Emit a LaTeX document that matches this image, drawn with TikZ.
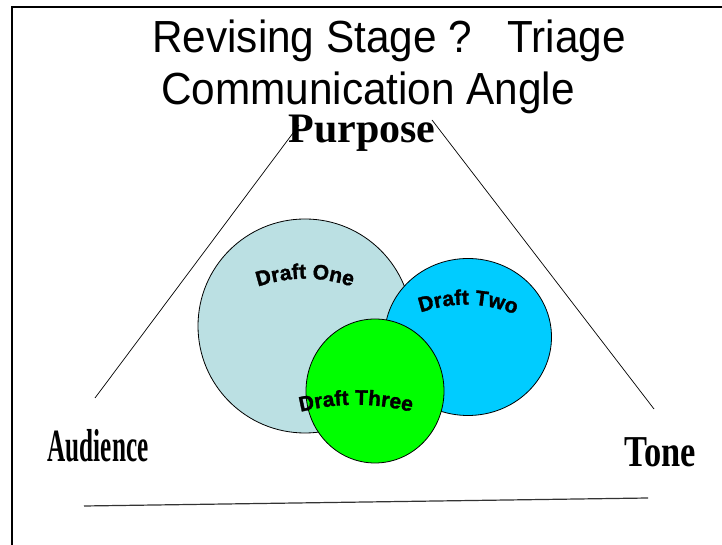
\documentclass[tikz,border=0pt]{standalone}
\usepackage{fontspec}
\setmainfont{Liberation Serif}
\setsansfont{Liberation Sans}
\newfontfamily\draftfam[FakeBold=1.5]{Liberation Sans Bold}
\usetikzlibrary{decorations.text}
\definecolor{draftone}{HTML}{BBE0E3}
\definecolor{drafttwo}{HTML}{00CCFF}
\definecolor{draftthree}{HTML}{00FF00}
\newcommand\draftfont{\fontsize{21}{21}\selectfont\draftfam}
\tikzset{
	draft/.style={draw=black, line width=0.8pt},
	corner/.style={inner sep=0pt, anchor=base, font=\fontsize{42}{42}\selectfont\bfseries},
	heading/.style={inner sep=0pt, anchor=base, font=\fontsize{45}{45}\selectfont\sffamily},
	curved/.style={decorate, decoration={text along path, text align=center, text={|\draftfont|#1}}}
}
\begin{document}
\begin{tikzpicture}[x=1pt, y=1pt]
		\useasboundingbox (0,0) rectangle (722,545);
		\coordinate (frameB) at (12,0);
		\coordinate (frameC) at (12,538);
		\coordinate (frameR) at (722,538);
		\coordinate (purposeL) at (299,420);
		\coordinate (purposeR) at (432,425);
		\coordinate (audienceT) at (95,147);
		\coordinate (toneT) at (654,136);
		\coordinate (baseL) at (84,39);
		\coordinate (baseR) at (648,47);
		\draw[line width=2.2pt] (frameB) -- (frameC) -- (frameR);	% slide frame
		\node[heading] (title1) at (389,492) {\scalebox{0.94}[1]{Revising Stage ?~~~Triage}};
		\node[heading] (title2) at (368,440) {\scalebox{0.94}[1]{Communication Angle}};
		\draw[line width=0.7pt] (audienceT) -- (purposeL);	% left side
		\draw[line width=0.7pt] (purposeR) -- (toneT);	% right side
		\draw[line width=1.2pt, black!80] (baseL) -- (baseR);	% base
		\node[corner] (purpose) at (362,402) {Purpose};
		\node[corner] (audience) at (98,83) {\scalebox{0.6}[1.1]{Audience}};
		\node[corner] (tone) at (660,78) {\scalebox{0.82}[1.05]{Tone}};
		\draw[draft, fill=draftone] (305,219) ellipse[x radius=107pt, y radius=107pt];
		\draw[draft, fill=drafttwo] (468,208) ellipse[x radius=83.5pt, y radius=78.5pt];
		\draw[draft, fill=draftthree] (375,154) ellipse[x radius=69pt, y radius=72pt];
		\path[curved={Draft One}] (248,255) to[bend left=20] (362,255);
		\path[curved={Draft Two}] (416,231) to[bend left=20] (520,229);
		\path[curved={Draft Three}] (288,130) to[bend left=15] (424,130);
	\end{tikzpicture}
\end{document}
